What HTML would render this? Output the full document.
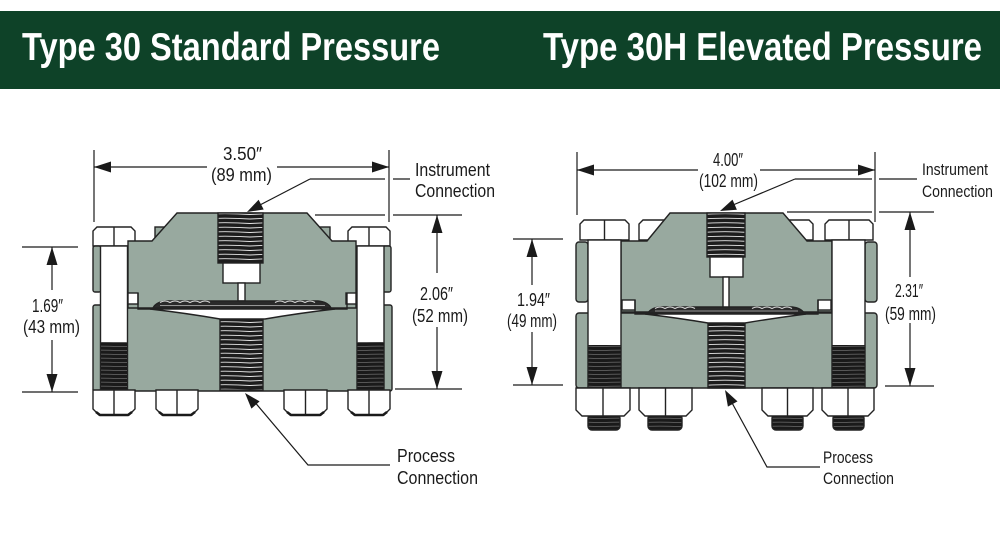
<!DOCTYPE html>
<html><head><meta charset="utf-8">
<style>
html,body{margin:0;padding:0;background:#fff;}
svg{display:block;}
text{font-family:"Liberation Sans","DejaVu Sans",sans-serif;fill:#1a1a1a;}
.h{font-weight:bold;fill:#fff;font-size:39px;}
.d{font-size:18px;}
.s{font-size:17px;}
</style></head><body>
<svg width="1000" height="538" viewBox="0 0 1000 538" xmlns="http://www.w3.org/2000/svg">
<defs>
<pattern id="th" patternUnits="userSpaceOnUse" width="50" height="4.5">
<rect width="50" height="4.5" fill="#1d1d1d"/>
<path d="M0,3 Q25,1.4 50,3" stroke="#e6e6e6" stroke-width="0.9" fill="none"/>
</pattern>
<pattern id="th2" patternUnits="userSpaceOnUse" width="40" height="4">
<rect width="40" height="4" fill="#1a1a1a"/>
<path d="M0,2.6 Q20,1.6 40,2.6" stroke="#6a6a6a" stroke-width="0.7" fill="none"/>
</pattern>
</defs>

<!-- header -->
<rect x="0" y="11" width="1000" height="78" fill="#0e4228"/>
<text class="h" x="22" y="60" textLength="418" lengthAdjust="spacingAndGlyphs">Type 30 Standard Pressure</text>
<text class="h" x="543" y="60" textLength="439" lengthAdjust="spacingAndGlyphs">Type 30H Elevated Pressure</text>

<!-- ================= LEFT DIAGRAM ================= -->
<g stroke="#1a1a1a" stroke-width="1.2" fill="none">
<line x1="94" y1="150" x2="94" y2="222"/>
<line x1="389" y1="150" x2="389" y2="222"/>
<line x1="94" y1="167" x2="207" y2="167"/>
<line x1="277" y1="167" x2="389" y2="167"/>
<line x1="310" y1="179" x2="385" y2="179"/>
<line x1="393" y1="179" x2="410" y2="179"/>
<line x1="310" y1="179" x2="258" y2="206"/>
<line x1="315" y1="215" x2="385" y2="215"/>
<line x1="393" y1="215" x2="462" y2="215"/>
<line x1="395" y1="389" x2="462" y2="389"/>
<line x1="437" y1="215" x2="437" y2="273"/>
<line x1="437" y1="327" x2="437" y2="389"/>
<line x1="22" y1="247" x2="78" y2="247"/>
<line x1="22" y1="392" x2="78" y2="392"/>
<line x1="52" y1="247" x2="52" y2="290"/>
<line x1="52" y1="340" x2="52" y2="392"/>
<polyline points="253,400 308,465 390,465"/>
</g>
<g fill="#1a1a1a">
<polygon points="94,167 111,161.5 111,172.5"/>
<polygon points="389,167 372,161.5 372,172.5"/>
<polygon points="247,212 263.7,209.5 258.6,199.7"/>
<polygon points="437,215 431.5,233 442.5,233"/>
<polygon points="437,389 431.5,371 442.5,371"/>
<polygon points="52,247 46.5,265 57.5,265"/>
<polygon points="52,392 46.5,374 57.5,374"/>
<polygon points="245,393 259.6,401.4 251.4,408.6"/>
</g>
<text class="d" x="223" y="160" textLength="39" lengthAdjust="spacingAndGlyphs">3.50″</text>
<text class="d" x="211" y="181" textLength="61" lengthAdjust="spacingAndGlyphs">(89 mm)</text>
<text class="d" x="420" y="300" textLength="33" lengthAdjust="spacingAndGlyphs">2.06″</text>
<text class="d" x="412" y="322" textLength="56" lengthAdjust="spacingAndGlyphs">(52 mm)</text>
<text class="d" x="32" y="312" textLength="31" lengthAdjust="spacingAndGlyphs">1.69″</text>
<text class="d" x="23" y="333" textLength="57" lengthAdjust="spacingAndGlyphs">(43 mm)</text>
<text class="d" x="415" y="176" textLength="75" lengthAdjust="spacingAndGlyphs">Instrument</text>
<text class="d" x="415" y="197" textLength="80" lengthAdjust="spacingAndGlyphs">Connection</text>
<text class="d" x="397" y="462" textLength="58" lengthAdjust="spacingAndGlyphs">Process</text>
<text class="d" x="397" y="484" textLength="81" lengthAdjust="spacingAndGlyphs">Connection</text>

<g stroke="#222" stroke-width="1.4">
<rect x="155" y="227" width="13" height="15" fill="#98a99f"/>
<rect x="317" y="227" width="13" height="15" fill="#98a99f"/>
<path d="M93,246 L93,231 L97,227 L131,227 L135,231 L135,246 Z" fill="#fff"/>
<line x1="114" y1="227" x2="114" y2="246"/>
<path d="M348,246 L348,231 L352,227 L386,227 L390,231 L390,246 Z" fill="#fff"/>
<line x1="369" y1="227" x2="369" y2="246"/>
<rect x="93" y="305" width="299" height="86" rx="2" fill="#98a99f"/>
<path d="M128,241 L152,241 L177,213 L307,213 L332,241 L356,241 L356,308 L128,308 Z" fill="#98a99f"/>
<rect x="93" y="246" width="8" height="46" rx="2" fill="#98a99f"/>
<rect x="383" y="246" width="8" height="46" rx="2" fill="#98a99f"/>
<rect x="100.5" y="246" width="27" height="144" fill="#fff"/>
<rect x="357" y="246" width="27" height="144" fill="#fff"/>
<rect x="101" y="342" width="26" height="48" fill="url(#th2)" stroke="none"/>
<rect x="357.5" y="342" width="26" height="48" fill="url(#th2)" stroke="none"/>
<rect x="128" y="293" width="10" height="11" fill="#fff"/>
<rect x="346" y="293" width="10" height="11" fill="#fff"/>
<path d="M138,293 L138,309 L347,309 L347,293" fill="none"/>
<rect x="218" y="213" width="45" height="50" fill="url(#th)"/>
<rect x="223" y="263" width="37" height="20" fill="#fff"/>
<rect x="238" y="283" width="7" height="18" fill="#fff"/>
<rect x="220" y="314" width="43" height="76" fill="url(#th)"/>
<path d="M153,308 Q156,302 166,301 L318,301 Q328,302 331,308 Z" fill="#2a2a2a"/>
<path d="M150,309 L335,309 Q300,313 265,319 L220,319 Q185,313 150,309 Z" fill="#fff"/>
<path d="M93,390 L93,409 L99,415 L129,415 L135,409 L135,390 Z" fill="#fff"/>
<line x1="114" y1="390" x2="114" y2="415"/>
<path d="M156,390 L156,409 L162,415 L192,415 L198,409 L198,390 Z" fill="#fff"/>
<line x1="177" y1="390" x2="177" y2="415"/>
<path d="M284,390 L284,409 L290,415 L321,415 L327,409 L327,390 Z" fill="#fff"/>
<line x1="305.5" y1="390" x2="305.5" y2="415"/>
<path d="M348,390 L348,409 L354,415 L384,415 L390,409 L390,390 Z" fill="#fff"/>
<line x1="369" y1="390" x2="369" y2="415"/>
</g>
<path d="M160,302.5 q5,-3 10,0 q5,-3 10,0 q5,-3 10,0 q5,-3 10,0 q5,-3 10,0 M275,302.5 q5,-3 10,0 q5,-3 10,0 q5,-3 10,0 q5,-3 10,0" stroke="#d8d8d8" stroke-width="1.1" fill="none"/>
<line x1="160" y1="305.5" x2="325" y2="305.5" stroke="#bbb" stroke-width="0.7"/>
<g stroke="#1a1a1a" stroke-width="2.5" fill="none">
<path d="M96,412 L100,415 L128,415 L132,412"/>
<path d="M159,412 L163,415 L191,415 L195,412"/>
<path d="M287,412 L291,415 L320,415 L324,412"/>
<path d="M351,412 L355,415 L383,415 L387,412"/>
</g>

<!-- ================= RIGHT DIAGRAM ================= -->
<g stroke="#1a1a1a" stroke-width="1.2" fill="none">
<line x1="577" y1="152" x2="577" y2="215"/>
<line x1="875" y1="152" x2="875" y2="222"/>
<line x1="577" y1="170" x2="698" y2="170"/>
<line x1="760" y1="170" x2="875" y2="170"/>
<line x1="795" y1="179" x2="872" y2="179"/>
<line x1="879" y1="179" x2="917" y2="179"/>
<line x1="795" y1="179" x2="733" y2="205"/>
<line x1="787" y1="212" x2="872" y2="212"/>
<line x1="879" y1="212" x2="934" y2="212"/>
<line x1="885" y1="386" x2="934" y2="386"/>
<line x1="910" y1="212" x2="910" y2="277"/>
<line x1="910" y1="323" x2="910" y2="386"/>
<line x1="513" y1="239" x2="563" y2="239"/>
<line x1="513" y1="385" x2="563" y2="385"/>
<line x1="532" y1="239" x2="532" y2="285"/>
<line x1="532" y1="332" x2="532" y2="385"/>
<polyline points="731,401 767,467 820,467"/>
</g>
<g fill="#1a1a1a">
<polygon points="577,170 594,164.5 594,175.5"/>
<polygon points="875,170 858,164.5 858,175.5"/>
<polygon points="720,211 736.9,209.8 732.5,199.6"/>
<polygon points="910,212 904.5,230 915.5,230"/>
<polygon points="910,386 904.5,368 915.5,368"/>
<polygon points="532,239 526.5,257 537.5,257"/>
<polygon points="532,385 526.5,367 537.5,367"/>
<polygon points="725,390 737.5,401.4 727.9,406.6"/>
</g>
<text class="d" x="713" y="166" textLength="30" lengthAdjust="spacingAndGlyphs">4.00″</text>
<text class="d" x="699" y="187" textLength="59" lengthAdjust="spacingAndGlyphs">(102 mm)</text>
<text class="d" x="895" y="297" textLength="28" lengthAdjust="spacingAndGlyphs">2.31″</text>
<text class="d" x="885" y="320" textLength="51" lengthAdjust="spacingAndGlyphs">(59 mm)</text>
<text class="d" x="517" y="306" textLength="33" lengthAdjust="spacingAndGlyphs">1.94″</text>
<text class="d" x="507" y="327" textLength="50" lengthAdjust="spacingAndGlyphs">(49 mm)</text>
<text class="s" x="922" y="175" textLength="66" lengthAdjust="spacingAndGlyphs">Instrument</text>
<text class="s" x="922" y="197" textLength="71" lengthAdjust="spacingAndGlyphs">Connection</text>
<text class="s" x="823" y="463" textLength="50" lengthAdjust="spacingAndGlyphs">Process</text>
<text class="s" x="823" y="484" textLength="71" lengthAdjust="spacingAndGlyphs">Connection</text>

<g stroke="#222" stroke-width="1.4">
<path d="M639,240 L639,224 L643,220 L688,220 L692,224 L692,240 Z" fill="#fff"/>
<path d="M762,240 L762,224 L766,220 L809,220 L813,224 L813,240 Z" fill="#fff"/>
<path d="M580,240 L580,224 L584,220 L625,220 L629,224 L629,240 Z" fill="#fff"/>
<line x1="604.5" y1="220" x2="604.5" y2="240"/>
<path d="M825,240 L825,224 L829,220 L869,220 L873,224 L873,240 Z" fill="#fff"/>
<line x1="849" y1="220" x2="849" y2="240"/>
<rect x="576" y="313" width="301" height="75" rx="3" fill="#98a99f"/>
<path d="M621,241 L647,241 L670,213 L783,213 L807,241 L832,241 L832,312 L621,312 Z" fill="#98a99f"/>
<rect x="576" y="242" width="12" height="60" rx="3" fill="#98a99f"/>
<rect x="865" y="242" width="12" height="60" rx="3" fill="#98a99f"/>
<rect x="588" y="240" width="33" height="148" fill="#fff"/>
<rect x="832" y="240" width="33" height="148" fill="#fff"/>
<rect x="588.5" y="345" width="32" height="43" fill="url(#th2)" stroke="none"/>
<rect x="832.5" y="345" width="32" height="43" fill="url(#th2)" stroke="none"/>
<rect x="622" y="300" width="13" height="10" fill="#fff"/>
<rect x="818" y="300" width="13" height="10" fill="#fff"/>
<path d="M635,300 L635,314 L818,314 L818,300" fill="none"/>
<rect x="707" y="213" width="38" height="44" fill="url(#th)"/>
<rect x="710" y="257" width="33" height="20" fill="#fff"/>
<rect x="723" y="277" width="6" height="31" fill="#fff"/>
<rect x="708" y="320" width="37" height="68" fill="url(#th)"/>
<path d="M648,313 Q651,308 660,307 L792,307 Q801,308 804,313 Z" fill="#2a2a2a"/>
<path d="M645,314 L806,314 Q775,318 745,323 L708,323 Q678,318 645,314 Z" fill="#fff"/>
<rect x="588" y="414" width="32" height="16" rx="4" fill="url(#th2)"/>
<rect x="648" y="414" width="34" height="16" rx="4" fill="url(#th2)"/>
<rect x="772" y="414" width="31" height="16" rx="4" fill="url(#th2)"/>
<rect x="833" y="414" width="31" height="16" rx="4" fill="url(#th2)"/>
<path d="M576,388 L576,410 L582,416 L624,416 L630,410 L630,388 Z" fill="#fff"/>
<line x1="603" y1="388" x2="603" y2="416"/>
<path d="M639,388 L639,410 L645,416 L686,416 L692,410 L692,388 Z" fill="#fff"/>
<line x1="665.5" y1="388" x2="665.5" y2="416"/>
<path d="M762,388 L762,410 L768,416 L807,416 L813,410 L813,388 Z" fill="#fff"/>
<line x1="787.5" y1="388" x2="787.5" y2="416"/>
<path d="M822,388 L822,410 L828,416 L868,416 L874,410 L874,388 Z" fill="#fff"/>
<line x1="848" y1="388" x2="848" y2="416"/>
</g>
<path d="M655,308.5 q5,-3 10,0 q5,-3 10,0 q5,-3 10,0 q5,-3 10,0 M752,308.5 q5,-3 10,0 q5,-3 10,0 q5,-3 10,0 q5,-3 10,0" stroke="#d8d8d8" stroke-width="1.1" fill="none"/>
<line x1="655" y1="311" x2="798" y2="311" stroke="#bbb" stroke-width="0.7"/>
</svg>
</body></html>
